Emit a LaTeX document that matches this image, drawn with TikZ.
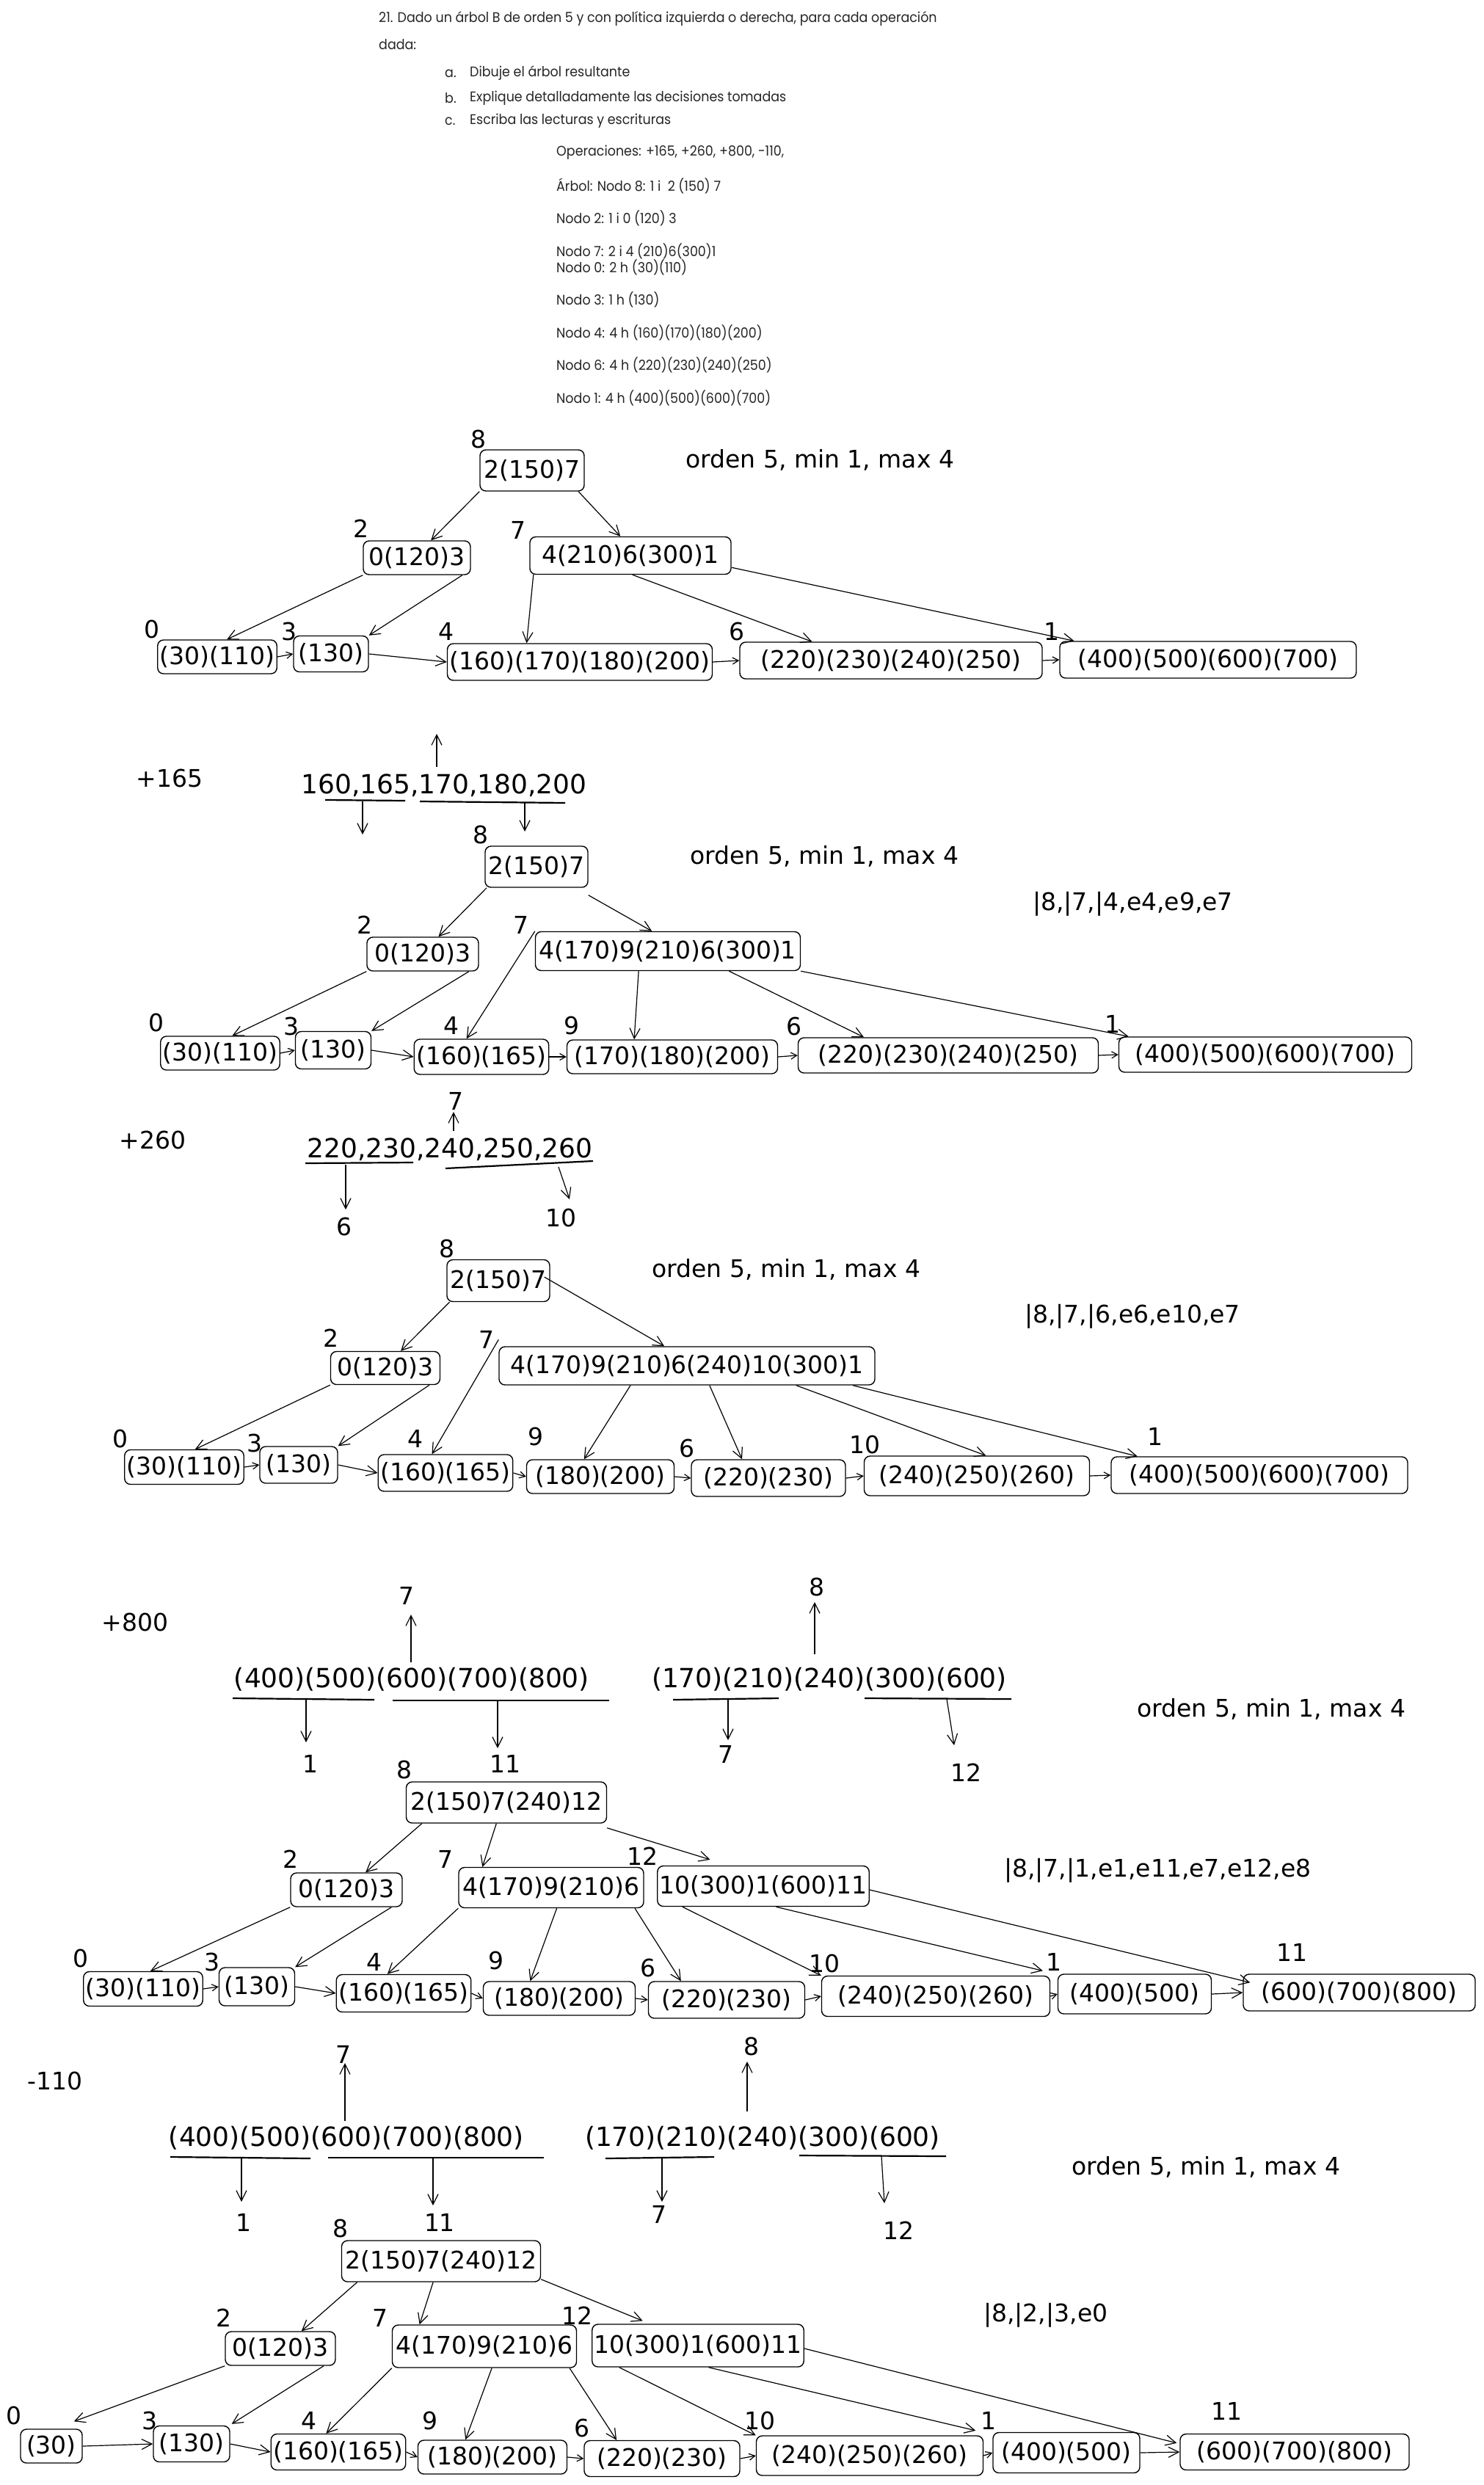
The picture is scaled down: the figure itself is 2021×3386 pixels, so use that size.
\documentclass[tikz,border=0pt]{standalone}
\usepackage{fontspec}
\usepackage{tikz}
\usetikzlibrary{calc,positioning,arrows.meta}
\newfontfamily\hdrfont[FakeStretch=0.92]{Poppins}
\newfontfamily\handfont{DejaVu Sans}

\begin{document}
\begin{tikzpicture}[x=1pt, y=-1pt, align=center,
    hdr/.style={anchor=west, inner sep=0pt, text=black!85,
        font=\hdrfont\fontsize{19}{22}\selectfont},
    hand/.style={inner sep=0pt, font=\handfont\fontsize{33}{38}\selectfont},
    seq/.style={inner sep=0pt, font=\handfont\fontsize{36}{40}\selectfont},
    blk/.style={hand, draw, rounded corners=8pt, inner sep=3pt,
        minimum height=48pt, line width=1.4pt},
    arr/.style={-{Straight Barb[length=14pt,width=14pt]}, line width=1.2pt},
    lnk/.style={-{Straight Barb[length=8pt,width=9pt]}, line width=1.2pt},
    uline/.style={line width=2.2pt}]

    \fill[white] (0,0) rectangle (2021,3386);
    \useasboundingbox (0,0) rectangle (2021,3386);

    % enunciado
    \node[hdr] (q1) at (516,25) {21. Dado un árbol B de orden 5 y con política izquierda o derecha, para cada operación};
    \node[hdr] (q2) at (516,61) {dada:};
    \node[hdr] (qa) at (606,100) {a.};
    \node[hdr] (qat) at (640,100) {Dibuje el árbol resultante};
    \node[hdr] (qb) at (606,134) {b.};
    \node[hdr] (qbt) at (640,134) {Explique detalladamente las decisiones tomadas};
    \node[hdr] (qc) at (606,165) {c.};
    \node[hdr] (qct) at (640,165) {Escriba las lecturas y escrituras};
    \node[hdr] (ops) at (758,208) {Operaciones: +165, +260, +800, -110,};
    \node[hdr] (nd8) at (758,253) {Árbol: Nodo 8: 1 i \ 2 (150) 7};
    \node[hdr] (nd2) at (758,297) {Nodo 2: 1 i 0 (120) 3};
    \node[hdr] (nd7) at (758,342) {Nodo 7: 2 i 4 (210)6(300)1};
    \node[hdr] (nd0) at (758,364) {Nodo 0: 2 h (30)(110)};
    \node[hdr] (nd3) at (758,408) {Nodo 3: 1 h (130)};
    \node[hdr] (nd4) at (758,453) {Nodo 4: 4 h (160)(170)(180)(200)};
    \node[hdr] (nd6) at (758,497) {Nodo 6: 4 h (220)(230)(240)(250)};
    \node[hdr] (nd1) at (758,542) {Nodo 1: 4 h (400)(500)(600)(700)};

    % arbol inicial
    \node[hand, anchor=west] (ord1) at (934,627) {orden 5, min 1, max 4};
    \node[hand] (id1r) at (652,598) {8};
    \node[blk, minimum width=142pt, minimum height=56pt] (r1) at (725,641) {2(150)7};
    \node[hand] (id1a) at (492,720) {2};
    \node[hand] (id1b) at (706,722) {7};
    \node[blk, minimum width=146pt, minimum height=46pt] (a1) at (568,760) {0(120)3};
    \node[blk, minimum width=274pt, minimum height=51pt] (b1) at (859,757) {4(210)6(300)1};
    \node[hand] (id10) at (207,857) {0};
    \node[hand] (id11) at (394,860) {3};
    \node[hand] (id12) at (608,860) {4};
    \node[hand] (id13) at (1004,860) {6};
    \node[hand] (id14) at (1433,860) {1};
    \node[blk, minimum width=149pt, minimum height=46pt] (l10) at (296,895) {(30)(110)};
    \node[blk, minimum width=102pt, minimum height=49pt] (l11) at (451,891) {(130)};
    \node[blk, minimum width=357pt, minimum height=50pt] (l12) at (790,902) {(160)(170)(180)(200)};
    \node[blk, minimum width=412pt, minimum height=50pt] (l13) at (1214,900) {(220)(230)(240)(250)};
    \node[blk, minimum width=404pt, minimum height=50pt] (l14) at (1646,899) {(400)(500)(600)(700)};

    \draw[arr] (r1.south west) -- ($(a1.north west)!.63!(a1.north east)$);
    \draw[arr] ($(r1.south west)!.94!(r1.south east)$) -- ($(b1.north west)!.45!(b1.north east)$);
    \draw[arr] (a1.south west) -- ($(l10.north west)!.58!(l10.north east)$);
    \draw[arr] ($(a1.south west)!.92!(a1.south east)$) -- (l11.north east);
    \draw[arr] ($(b1.south west)!.02!(b1.south east)$) -- ($(l12.north west)!.3!(l12.north east)$);
    \draw[arr] ($(b1.south west)!.51!(b1.south east)$) -- ($(l13.north west)!.24!(l13.north east)$);
    \draw[arr] ($(b1.south east)+(0,-10)$) -- ($(l14.north west)!.05!(l14.north east)$);
    \foreach \p/\q in {l10/l11, l12/l13, l13/l14}
        \draw[lnk] (\p.east) -- (\q.west);
    \draw[arr] (l11.east) -- (l12.west);

    % +165
    \node[hand] (op2) at (231,1060) {+165};
    \node[seq] (s2) at (605,1070) {160,165,170,180,200};
    \coordinate (s2a) at (595,1045);
    \coordinate (s2b) at (595,1000);
    \draw[arr] (s2a) -- (s2b);
    \draw[uline] (443,1090) -- (552,1091);
    \draw[uline] (572,1092) -- (770,1094);
    \coordinate (s2c) at (494,1092);
    \coordinate (s2d) at (494,1137);
    \coordinate (s2e) at (715,1094);
    \coordinate (s2f) at (715,1133);
    \draw[arr] (s2c) -- (s2d);
    \draw[arr] (s2e) -- (s2f);

    \node[hand, anchor=west] (ord2) at (940,1167) {orden 5, min 1, max 4};
    \node[hand, anchor=west] (io2) at (1407,1232) {|8,|7,|4,e4,e9,e7};
    \node[hand] (id2r) at (655,1137) {8};
    \node[blk, minimum width=140pt, minimum height=56pt] (r2) at (731,1181) {2(150)7};
    \node[hand] (id2a) at (497,1260) {2};
    \node[hand] (id2b) at (710,1260) {7};
    \node[blk, minimum width=152pt, minimum height=46pt] (a2) at (576,1300) {0(120)3};
    \node[blk, minimum width=361pt, minimum height=53pt] (b2) at (910,1296) {4(170)9(210)6(300)1};
    \node[hand] (id20) at (213,1393) {0};
    \node[hand] (id21) at (397,1398) {3};
    \node[hand] (id22) at (615,1397) {4};
    \node[hand] (id23) at (779,1397) {9};
    \node[hand] (id24) at (1082,1398) {6};
    \node[hand] (id25) at (1516,1395) {1};
    \node[blk, minimum width=151pt, minimum height=46pt] (l20) at (300,1435) {(30)(110)};
    \node[blk, minimum width=103pt, minimum height=51pt] (l21) at (454,1431) {(130)};
    \node[blk, minimum width=175pt, minimum height=48pt] (l22) at (656,1440) {(160)(165)};
    \node[blk, minimum width=287pt, minimum height=46pt] (l23) at (916,1440) {(170)(180)(200)};
    \node[blk, minimum width=409pt, minimum height=48pt] (l24) at (1292,1438) {(220)(230)(240)(250)};
    \node[blk, minimum width=399pt, minimum height=48pt] (l25) at (1724,1437) {(400)(500)(600)(700)};

    \draw[arr] ($(r2.south west)!.02!(r2.south east)$) -- ($(a2.north west)!.64!(a2.north east)$);
    \draw[arr] ($(r2.south east)+(0,10)$) -- ($(b2.north west)!.44!(b2.north east)$);
    \draw[arr] (a2.south west) -- ($(l20.north west)!.6!(l20.north east)$);
    \draw[arr] ($(a2.south west)!.91!(a2.south east)$) -- (l21.north east);
    \draw[arr] (b2.north west) -- ($(l22.north west)!.39!(l22.north east)$);
    \draw[arr] ($(b2.south west)!.39!(b2.south east)$) -- ($(l23.north west)!.32!(l23.north east)$);
    \draw[arr] ($(b2.south west)!.73!(b2.south east)$) -- ($(l24.north west)!.22!(l24.north east)$);
    \draw[arr] (b2.south east) -- ($(l25.north west)!.035!(l25.north east)$);
    \foreach \p/\q in {l20/l21, l22/l23, l23/l24, l24/l25}
        \draw[lnk] (\p.east) -- (\q.west);
    \draw[arr] (l21.east) -- (l22.west);

    % +260
    \node[hand] (op3) at (208,1553) {+260};
    \node[seq] (s3) at (613,1566) {220,230,240,250,260};
    \node[hand] (id3u) at (621,1500) {7};
    \coordinate (s3a) at (618,1541);
    \coordinate (s3b) at (618,1515);
    \draw[arr] (s3a) -- (s3b);
    \draw[uline] (416,1585) -- (563,1584);
    \draw[uline] (607,1592) -- (808,1582);
    \coordinate (s3c) at (471,1587);
    \coordinate (s3d) at (471,1648);
    \coordinate (s3e) at (761,1590);
    \coordinate (s3f) at (776,1634);
    \draw[arr] (s3c) -- (s3d);
    \draw[arr] (s3e) -- (s3f);
    \node[hand] (id3l) at (469,1671) {6};
    \node[hand] (id3m) at (764,1659) {10};

    \node[hand, anchor=west] (ord3) at (888,1730) {orden 5, min 1, max 4};
    \node[hand, anchor=west] (io3) at (1396,1794) {|8,|7,|6,e6,e10,e7};
    \node[hand] (id3r) at (609,1701) {8};
    \node[blk, minimum width=140pt, minimum height=57pt] (r3) at (679,1745) {2(150)7};
    \node[hand] (id3a) at (451,1823) {2};
    \node[hand] (id3b) at (663,1825) {7};
    \node[blk, minimum width=149pt, minimum height=45pt] (a3) at (525,1864) {0(120)3};
    \node[blk, minimum width=512pt, minimum height=52pt] (b3) at (936,1861) {4(170)9(210)6(240)10(300)1};
    \node[hand] (id30) at (164,1960) {0};
    \node[hand] (id31) at (347,1966) {3};
    \node[hand] (id32) at (566,1960) {4};
    \node[hand] (id33) at (730,1957) {9};
    \node[hand] (id34) at (936,1973) {6};
    \node[hand] (id35) at (1178,1968) {10};
    \node[hand] (id36) at (1574,1957) {1};
    \node[blk, minimum width=153pt, minimum height=47pt] (l30) at (251,1999) {(30)(110)};
    \node[blk, minimum width=106pt, minimum height=50pt] (l31) at (407,1996) {(130)};
    \node[blk, minimum width=175pt, minimum height=50pt] (l32) at (607,2007) {(160)(165)};
    \node[blk, minimum width=201pt, minimum height=46pt] (l33) at (818,2012) {(180)(200)};
    \node[blk, minimum width=210pt, minimum height=50pt] (l34) at (1047,2014) {(220)(230)};
    \node[blk, minimum width=307pt, minimum height=54pt] (l35) at (1331,2011) {(240)(250)(260)};
    \node[blk, minimum width=404pt, minimum height=50pt] (l36) at (1716,2010) {(400)(500)(600)(700)};

    \draw[arr] ($(r3.south west)!.03!(r3.south east)$) -- ($(a3.north west)!.64!(a3.north east)$);
    \draw[arr] ($(r3.east)+(-8,-5)$) -- ($(b3.north west)!.44!(b3.north east)$);
    \draw[arr] (a3.south west) -- ($(l30.north west)!.59!(l30.north east)$);
    \draw[arr] ($(a3.south west)!.9!(a3.south east)$) -- (l31.north east);
    \draw[arr] ($(b3.north west)+(0,-9)$) -- ($(l32.north west)!.4!(l32.north east)$);
    \draw[arr] ($(b3.south west)!.35!(b3.south east)$) -- ($(l33.north west)!.39!(l33.north east)$);
    \draw[arr] ($(b3.south west)!.56!(b3.south east)$) -- ($(l34.north west)!.33!(l34.north east)$);
    \draw[arr] ($(b3.south west)!.79!(b3.south east)$) -- ($(l35.north west)!.54!(l35.north east)$);
    \draw[arr] ($(b3.south west)!.94!(b3.south east)$) -- ($(l36.north west)!.09!(l36.north east)$);
    \foreach \p/\q in {l30/l31, l32/l33, l33/l34, l34/l35, l35/l36}
        \draw[lnk] (\p.east) -- (\q.west);
    \draw[arr] (l31.east) -- (l32.west);

    % +800
    \node[hand] (op4) at (184,2210) {+800};
    \node[seq] (s4a) at (561,2288) {(400)(500)(600)(700)(800)};
    \node[hand] (id4u) at (554,2174) {7};
    \coordinate (s4a1) at (560,2265);
    \coordinate (s4a2) at (560,2200);
    \draw[arr] (s4a1) -- (s4a2);
    \draw[uline] (317,2314) -- (510,2316);
    \draw[uline] (535,2317) -- (830,2317);
    \coordinate (s4a3) at (417,2316);
    \coordinate (s4a4) at (417,2374);
    \coordinate (s4a5) at (678,2318);
    \coordinate (s4a6) at (678,2382);
    \draw[arr] (s4a3) -- (s4a4);
    \draw[arr] (s4a5) -- (s4a6);
    \node[hand] (id4p) at (423,2403) {1};
    \node[hand] (id4q) at (688,2403) {11};

    \node[seq] (s4b) at (1130,2288) {(170)(210)(240)(300)(600)};
    \node[hand] (id4v) at (1113,2162) {8};
    \coordinate (s4b1) at (1110,2254);
    \coordinate (s4b2) at (1110,2183);
    \draw[arr] (s4b1) -- (s4b2);
    \draw[uline] (917,2316) -- (1061,2314);
    \draw[uline] (1178,2314) -- (1378,2315);
    \coordinate (s4b3) at (992,2315);
    \coordinate (s4b4) at (992,2371);
    \coordinate (s4b5) at (1290,2315);
    \coordinate (s4b6) at (1300,2378);
    \draw[arr] (s4b3) -- (s4b4);
    \draw[arr] (s4b5) -- (s4b6);
    \node[hand] (id4s) at (989,2390) {7};
    \node[hand] (id4t) at (1316,2415) {12};

    \node[hand, anchor=west] (ord4) at (1549,2329) {orden 5, min 1, max 4};
    \node[hand, anchor=west] (io4) at (1368,2549) {|8,|7,|1,e1,e11,e7,e12,e8};
    \node[hand] (id4r) at (551,2411) {8};
    \node[blk, minimum width=273pt, minimum height=56pt] (r4) at (690,2456) {2(150)7(240)12};
    \node[hand] (id4a) at (396,2533) {2};
    \node[hand] (id4b) at (607,2533) {7};
    \node[hand] (id4c) at (875,2529) {12};
    \node[blk, minimum width=152pt, minimum height=46pt] (a4) at (472,2575) {0(120)3};
    \node[blk, minimum width=252pt, minimum height=55pt] (b4) at (751,2572) {4(170)9(210)6};
    \node[blk, minimum width=288pt, minimum height=55pt] (c4) at (1040,2570) {10(300)1(600)11};
    \node[hand] (id40) at (110,2668) {0};
    \node[hand] (id41) at (289,2673) {3};
    \node[hand] (id42) at (510,2673) {4};
    \node[hand] (id43) at (676,2671) {9};
    \node[hand] (id44) at (883,2681) {6};
    \node[hand] (id45) at (1123,2675) {10};
    \node[hand] (id46) at (1436,2673) {1};
    \node[hand] (id47) at (1760,2660) {11};
    \node[blk, minimum width=154pt, minimum height=47pt] (l40) at (195,2710) {(30)(110)};
    \node[blk, minimum width=103pt, minimum height=52pt] (l41) at (350,2707) {(130)};
    \node[blk, minimum width=173pt, minimum height=51pt] (l42) at (550,2716) {(160)(165)};
    \node[blk, minimum width=207pt, minimum height=46pt] (l43) at (762,2723) {(180)(200)};
    \node[blk, minimum width=213pt, minimum height=50pt] (l44) at (990,2725) {(220)(230)};
    \node[blk, minimum width=311pt, minimum height=55pt] (l45) at (1275,2720) {(240)(250)(260)};
    \node[blk, minimum width=209pt, minimum height=54pt] (l46) at (1546,2717) {(400)(500)};
    \node[blk, minimum width=316pt, minimum height=50pt] (l47) at (1852,2715) {(600)(700)(800)};

    \draw[arr] ($(r4.south west)!.08!(r4.south east)$) -- ($(a4.north west)!.67!(a4.north east)$);
    \draw[arr] ($(r4.south west)!.45!(r4.south east)$) -- ($(b4.north west)!.13!(b4.north east)$);
    \draw[arr] ($(r4.south east)+(0,6)$) -- ($(c4.north west)!.25!(c4.north east)+(0,-8)$);
    \draw[arr] (a4.south west) -- ($(l40.north west)!.56!(l40.north east)$);
    \draw[arr] ($(a4.south west)!.9!(a4.south east)$) -- (l41.north east);
    \draw[arr] (b4.south west) -- ($(l42.north west)!.38!(l42.north east)$);
    \draw[arr] ($(b4.south west)!.53!(b4.south east)$) -- ($(l43.north west)!.31!(l43.north east)$);
    \draw[arr] ($(b4.south west)!.95!(b4.south east)$) -- ($(l44.north west)!.21!(l44.north east)$);
    \draw[arr] ($(c4.south west)!.12!(c4.south east)$) -- (l45.north west);
    \draw[arr] ($(c4.south west)!.56!(c4.south east)$) -- ($(l46.north west)+(-20,-4)$);
    \draw[arr] ($(c4.east)+(0,5)$) -- ($(l47.north west)+(10,12)$);
    \foreach \p/\q in {l40/l41, l42/l43, l43/l44, l44/l45, l45/l46}
        \draw[lnk] (\p.east) -- (\q.west);
    \draw[arr] (l41.east) -- (l42.west);
    \draw[arr] (l46.east) -- (l47.west);

    % -110
    \node[hand] (op5) at (75,2835) {-110};
    \node[seq] (s5a) at (472,2913) {(400)(500)(600)(700)(800)};
    \node[hand] (id5u) at (468,2799) {7};
    \coordinate (s5a1) at (470,2890);
    \coordinate (s5a2) at (470,2811);
    \draw[arr] (s5a1) -- (s5a2);
    \draw[uline] (232,2939) -- (423,2941);
    \draw[uline] (447,2940) -- (741,2940);
    \coordinate (s5a3) at (329,2941);
    \coordinate (s5a4) at (329,3000);
    \coordinate (s5a5) at (590,2941);
    \coordinate (s5a6) at (590,3005);
    \draw[arr] (s5a3) -- (s5a4);
    \draw[arr] (s5a5) -- (s5a6);
    \node[hand] (id5p) at (332,3028) {1};
    \node[hand] (id5q) at (599,3028) {11};

    \node[seq] (s5b) at (1039,2913) {(170)(210)(240)(300)(600)};
    \node[hand] (id5v) at (1024,2788) {8};
    \coordinate (s5b1) at (1018,2877);
    \coordinate (s5b2) at (1018,2809);
    \draw[arr] (s5b1) -- (s5b2);
    \draw[uline] (825,2941) -- (973,2939);
    \draw[uline] (1089,2937) -- (1289,2938);
    \coordinate (s5b3) at (902,2940);
    \coordinate (s5b4) at (902,3000);
    \coordinate (s5b5) at (1201,2938);
    \coordinate (s5b6) at (1205,3002);
    \draw[arr] (s5b3) -- (s5b4);
    \draw[arr] (s5b5) -- (s5b6);
    \node[hand] (id5s) at (898,3017) {7};
    \node[hand] (id5t) at (1224,3039) {12};

    \node[hand, anchor=west] (ord5) at (1460,2953) {orden 5, min 1, max 4};
    \node[hand, anchor=west] (io5) at (1340,3155) {|8,|2,|3,e0};
    \node[hand] (id5r) at (464,3036) {8};
    \node[blk, minimum width=271pt, minimum height=56pt] (r5) at (601,3081) {2(150)7(240)12};
    \node[hand] (id5a) at (305,3158) {2};
    \node[hand] (id5b) at (518,3158) {7};
    \node[hand] (id5c) at (786,3155) {12};
    \node[blk, minimum width=150pt, minimum height=46pt] (a5) at (382,3200) {0(120)3};
    \node[blk, minimum width=251pt, minimum height=58pt] (b5) at (660,3197) {4(170)9(210)6};
    \node[blk, minimum width=287pt, minimum height=58pt] (c5) at (951,3196) {10(300)1(600)11};
    \node[hand] (id50) at (19,3291) {0};
    \node[hand] (id51) at (204,3298) {3};
    \node[hand] (id52) at (421,3298) {4};
    \node[hand] (id53) at (586,3298) {9};
    \node[hand] (id54) at (793,3308) {6};
    \node[hand] (id55) at (1035,3298) {10};
    \node[hand] (id56) at (1347,3298) {1};
    \node[hand] (id57) at (1671,3285) {11};
    \node[blk, minimum width=84pt, minimum height=46pt] (l50) at (70,3333) {(30)};
    \node[blk, minimum width=104pt, minimum height=49pt] (l51) at (261,3330) {(130)};
    \node[blk, minimum width=174pt, minimum height=49pt] (l52) at (461,3341) {(160)(165)};
    \node[blk, minimum width=203pt, minimum height=46pt] (l53) at (671,3348) {(180)(200)};
    \node[blk, minimum width=212pt, minimum height=49pt] (l54) at (902,3350) {(220)(230)};
    \node[blk, minimum width=309pt, minimum height=54pt] (l55) at (1185,3346) {(240)(250)(260)};
    \node[blk, minimum width=200pt, minimum height=55pt] (l56) at (1453,3342) {(400)(500)};
    \node[blk, minimum width=312pt, minimum height=49pt] (l57) at (1764,3341) {(600)(700)(800)};

    \draw[arr] ($(r5.south west)!.08!(r5.south east)$) -- ($(a5.north west)!.69!(a5.north east)$);
    \draw[arr] ($(r5.south west)!.46!(r5.south east)$) -- ($(b5.north west)!.15!(b5.north east)$);
    \draw[arr] ($(r5.south east)+(0,-4)$) -- ($(c5.north west)!.24!(c5.north east)+(0,-4)$);
    \draw[arr] (a5.south west) -- ($(l50.north west)!.86!(l50.north east)+(0,-10)$);
    \draw[arr] ($(a5.south west)!.89!(a5.south east)$) -- ($(l51.north east)+(2,-2)$);
    \draw[arr] (b5.south west) -- ($(l52.north west)!.41!(l52.north east)$);
    \draw[arr] ($(b5.south west)!.54!(b5.south east)$) -- ($(l53.north west)!.32!(l53.north east)$);
    \draw[arr] ($(b5.south west)!.96!(b5.south east)$) -- ($(l54.north west)!.21!(l54.north east)$);
    \draw[arr] ($(c5.south west)!.13!(c5.south east)$) -- (l55.north west);
    \draw[arr] ($(c5.south west)!.55!(c5.south east)$) -- ($(l56.north west)+(-23,-2)$);
    \draw[arr] ($(c5.east)+(0,4)$) -- ($(l57.north west)+(-4,13)$);
    \foreach \p/\q in {l52/l53, l53/l54, l54/l55, l55/l56}
        \draw[lnk] (\p.east) -- (\q.west);
    \foreach \p/\q in {l50/l51, l51/l52, l56/l57}
        \draw[arr] (\p.east) -- (\q.west);

\end{tikzpicture}
\end{document}
